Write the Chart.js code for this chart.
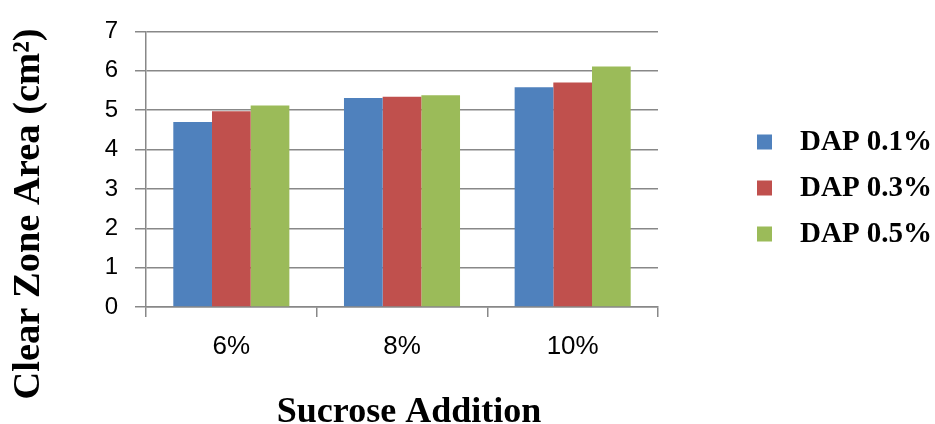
<!DOCTYPE html>
<html>
<head>
<meta charset="utf-8">
<script src="https://cdn.jsdelivr.net/npm/chart.js@4.4.1/dist/chart.umd.min.js"></script>
<style>
  html, body { margin: 0; padding: 0; background: #fff; }
  #wrap { width: 935px; height: 424px; position: relative; }
</style>
</head>
<body>
<div id="wrap"><canvas id="c"></canvas></div>
<script>
// Clear zone area by sucrose addition, one bar series per DAP level
const categories = ['6%', '8%', '10%'];
const seriesLabels = ['DAP 0.1%', 'DAP 0.3%', 'DAP 0.5%'];
const dap01 = [4.70, 5.31, 5.58];
const dap03 = [4.97, 5.34, 5.70];
const dap05 = [5.12, 5.38, 6.11];
const yTickValues = [0, 1, 2, 3, 4, 5, 6, 7];
const seriesColors = ['#4F81BD', '#C0504D', '#9BBB59'];
const yTitle = 'Clear Zone Area (cm²)';
const xTitle = 'Sucrose Addition';

const gridColor = '#888888';
const serif = '"Liberation Serif", "Times New Roman", serif';
const sans = '"Liberation Sans", Arial, sans-serif';

const seriesValues = [dap01, dap03, dap05];

// Axis titles and the side legend
const decorations = {
  id: 'decorations',
  afterDraw(chart) {
    const ctx = chart.ctx;
    ctx.save();
    ctx.fillStyle = '#000';
    ctx.font = 'bold 38.5px ' + serif;
    ctx.textAlign = 'center';
    ctx.textBaseline = 'middle';
    ctx.translate(29, 214);
    ctx.rotate(-Math.PI / 2);
    ctx.fillText(yTitle, 0, 0);
    ctx.restore();

    ctx.save();
    ctx.fillStyle = '#000';
    ctx.font = 'bold 36px ' + serif;
    ctx.textAlign = 'center';
    ctx.textBaseline = 'alphabetic';
    ctx.fillText(xTitle, 409, 422);
    ctx.restore();

    ctx.save();
    ctx.font = 'bold 29px ' + serif;
    ctx.textAlign = 'left';
    ctx.textBaseline = 'middle';
    chart.data.datasets.forEach((ds, i) => {
      const cy = 142 + 46 * i;
      ctx.fillStyle = ds.backgroundColor;
      ctx.fillRect(757, cy - 7.5, 15, 15);
      ctx.fillStyle = '#000';
      ctx.fillText(ds.label, 800, cy + 1);
    });
    ctx.restore();
  }
};

new Chart(document.getElementById('c'), {
  type: 'bar',
  data: {
    labels: categories,
    datasets: seriesValues.map((vals, i) => ({
      label: seriesLabels[i],
      data: vals,
      backgroundColor: seriesColors[i],
      borderWidth: 0,
      categoryPercentage: 0.68,
      barPercentage: 1.0
    }))
  },
  options: {
    responsive: true,
    maintainAspectRatio: false,
    animation: false,
    layout: { padding: { top: 27, right: 277, bottom: 0, left: 0 } },
    plugins: {
      legend: { display: false },
      tooltip: { enabled: false }
    },
    scales: {
      x: {
        afterFit(s) { s.height = 117; },
        grid: {
          offset: true,
          drawOnChartArea: false,
          drawTicks: true,
          tickLength: 10,
          color: gridColor,
          lineWidth: 1.5
        },
        border: { display: true, color: gridColor, width: 1.5 },
        ticks: {
          color: '#000',
          font: { family: sans, size: 26 },
          padding: 14
        }
      },
      y: {
        min: 0,
        max: 7,
        afterFit(s) { s.width = 146; },
        afterBuildTicks(s) { s.ticks = yTickValues.map(v => ({ value: v })); },
        grid: {
          color: gridColor,
          lineWidth: 1.5,
          drawTicks: true,
          tickLength: 11
        },
        border: { display: true, color: gridColor, width: 1.5 },
        ticks: {
          color: '#000',
          font: { family: sans, size: 24 },
          padding: 17
        }
      }
    }
  },
  plugins: [decorations]
});
</script>
</body>
</html>
